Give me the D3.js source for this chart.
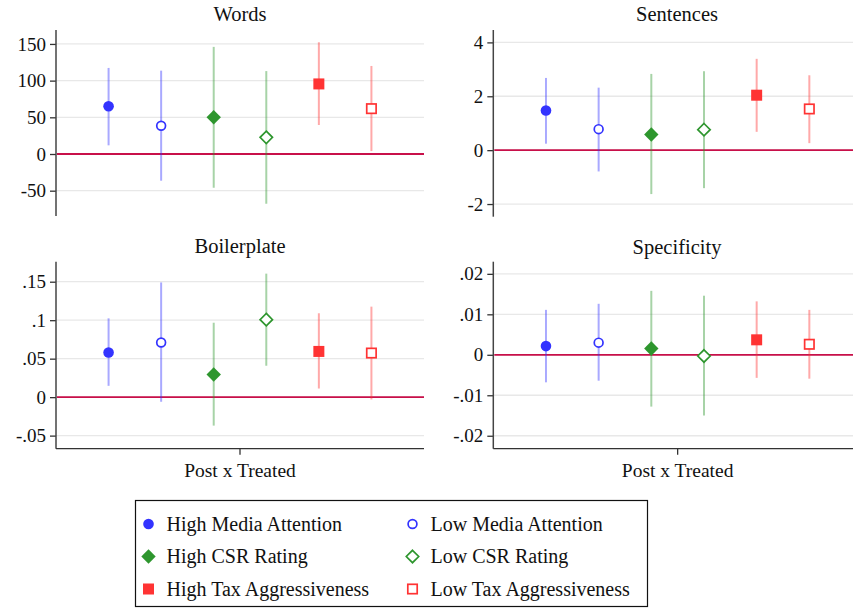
<!DOCTYPE html>
<html><head><meta charset="utf-8">
<script src="https://cdn.jsdelivr.net/npm/d3@7"></script>
<style>body{margin:0;background:#fff}svg{display:block}svg text{font-family:"Liberation Serif","Times New Roman",serif !important;fill:#111}</style>
</head><body><svg id="c" width="853" height="609" font-family="Liberation Serif"></svg>
<script>
const series = ["High Media Attention","Low Media Attention","High CSR Rating","Low CSR Rating","High Tax Aggressiveness","Low Tax Aggressiveness"];
const seriesColor = ["#3333ff","#3333ff","#2e962e","#2e962e","#ff3333","#ff3333"];
const seriesShape = ["circle","circle","diamond","diamond","square","square"];
const seriesFilled = [true,false,true,false,true,false];
const panelTitles = ["Words","Sentences","Boilerplate","Specificity"];
const xLabel = "Post x Treated";

const wordsCoef = [65, 38.6, 50, 22.7, 95.5, 61.8];
const wordsLo   = [11.8, -36.4, -46, -67.8, 39.5, 4];
const wordsHi   = [117.3, 113.6, 146, 113, 152.3, 120];
const wordsTicks = [-50, 0, 50, 100, 150];
const wordsTickLabels = ["-50","0","50","100","150"];

const sentCoef = [1.47, 0.78, 0.58, 0.76, 2.04, 1.53];
const sentLo   = [0.24, -0.79, -1.63, -1.41, 0.68, 0.26];
const sentHi   = [2.68, 2.32, 2.83, 2.93, 3.39, 2.78];
const sentTicks = [-2, 0, 2, 4];
const sentTickLabels = ["-2","0","2","4"];

const boilCoef = [0.058, 0.071, 0.0295, 0.1007, 0.0594, 0.0573];
const boilLo   = [0.0147, -0.006, -0.037, 0.0408, 0.0112, -0.003];
const boilHi   = [0.1024, 0.149, 0.0967, 0.1605, 0.109, 0.1176];
const boilTicks = [-0.05, 0, 0.05, 0.1, 0.15];
const boilTickLabels = ["-.05","0",".05",".1",".15"];

const specCoef = [0.00215, 0.003, 0.00156, -0.0003, 0.0037, 0.0026];
const specLo   = [-0.0068, -0.0064, -0.0128, -0.015, -0.0057, -0.0059];
const specHi   = [0.0111, 0.0126, 0.0158, 0.0146, 0.0132, 0.0111];
const specTicks = [-0.02, -0.01, 0, 0.01, 0.02];
const specTickLabels = ["-.02","-.01","0",".01",".02"];

const panels = [
  {title:panelTitles[0], coef:wordsCoef, lo:wordsLo, hi:wordsHi, ticks:wordsTicks, labels:wordsTickLabels, dom:[-84.5,169], x0:56, x1:424, y0:30, y1:216, xaxis:false, ty:21, tx:240},
  {title:panelTitles[1], coef:sentCoef, lo:sentLo, hi:sentHi, ticks:sentTicks, labels:sentTickLabels, dom:[-2.47,4.46], x0:493.3, x1:862, y0:30, y1:216.7, xaxis:false, ty:21, tx:677},
  {title:panelTitles[2], coef:boilCoef, lo:boilLo, hi:boilHi, ticks:boilTicks, labels:boilTickLabels, dom:[-0.067,0.176], x0:56, x1:424, y0:261.7, y1:448.7, xaxis:true, ty:253, tx:240},
  {title:panelTitles[3], coef:specCoef, lo:specLo, hi:specHi, ticks:specTicks, labels:specTickLabels, dom:[-0.0232,0.023], x0:493.3, x1:862, y0:261.7, y1:448.7, xaxis:true, ty:254, tx:677}
];

const FONT = "Liberation Serif";
const svg = d3.select("#c");

function drawMarker(g, shape, filled, color, cx, cy, scale) {
  const s = scale || 1;
  let el;
  if (shape === "circle") {
    el = g.append("circle").attr("cx", cx).attr("cy", cy).attr("r", (filled ? 5.3 : 4.4) * s);
  } else if (shape === "diamond") {
    const h = (filled ? 7.2 : 6.2) * s;
    el = g.append("path").attr("d", `M${cx},${cy-h}L${cx+h},${cy}L${cx},${cy+h}L${cx-h},${cy}Z`);
  } else {
    const h = (filled ? 5.5 : 4.7) * s;
    el = g.append("rect").attr("x", cx-h).attr("y", cy-h).attr("width", 2*h).attr("height", 2*h);
  }
  if (filled) el.attr("fill", color).attr("stroke", "none");
  else el.attr("fill", "#fff").attr("stroke", color).attr("stroke-width", 1.7);
}

panels.forEach(p => {
  const g = svg.append("g");
  const y = d3.scaleLinear().domain(p.dom).range([p.y1, p.y0]);
  const x = d3.scalePoint().domain(series).range([p.x0, p.x1]).padding(1);

  g.selectAll(".grid").data(p.ticks).enter().append("line")
    .attr("x1", p.x0).attr("x2", p.x1)
    .attr("y1", d => y(d)).attr("y2", d => y(d))
    .attr("stroke", "#e8e8e8").attr("stroke-width", 1.3);

  const ax = d3.axisLeft(y).tickValues(p.ticks).tickFormat((d,i) => p.labels[i]).tickSize(6).tickPadding(4);
  const axg = g.append("g").attr("transform", `translate(${p.x0},0)`).call(ax)
    .attr("font-family", FONT).attr("font-size", 19);
  axg.select(".domain").remove();
  axg.selectAll(".tick line").attr("stroke", "#333").attr("stroke-width", 1.3);
  axg.selectAll(".tick text").attr("font-family", FONT).attr("font-size", 19).attr("fill", "#111");
  g.append("line").attr("x1", p.x0).attr("x2", p.x0).attr("y1", p.y0).attr("y2", p.y1)
    .attr("stroke", "#444").attr("stroke-width", 1.5);

  if (p.xaxis) {
    g.append("line").attr("x1", p.x0).attr("x2", p.x1).attr("y1", p.y1).attr("y2", p.y1)
      .attr("stroke", "#333").attr("stroke-width", 1.3);
    const cx = (x(series[2]) + x(series[3])) / 2;
    g.append("line").attr("x1", cx).attr("x2", cx).attr("y1", p.y1).attr("y2", p.y1 + 6)
      .attr("stroke", "#333").attr("stroke-width", 1.3);
    g.append("text").attr("x", cx).attr("y", p.y1 + 28).attr("text-anchor", "middle")
      .attr("font-family", FONT).attr("font-size", 19.5).text(xLabel);
  }

  g.append("line").attr("x1", p.x0 + 1).attr("x2", p.x1).attr("y1", y(0)).attr("y2", y(0))
    .attr("stroke", "#c8104a").attr("stroke-width", 1.8);

  series.forEach((s, i) => {
    g.append("line").attr("x1", x(s)).attr("x2", x(s)).attr("y1", y(p.lo[i])).attr("y2", y(p.hi[i]))
      .attr("stroke", seriesColor[i]).attr("stroke-opacity", 0.42).attr("stroke-width", 2);
  });
  series.forEach((s, i) => {
    drawMarker(g, seriesShape[i], seriesFilled[i], seriesColor[i], x(s), y(p.coef[i]));
  });

  g.append("text").attr("x", p.tx).attr("y", p.ty).attr("text-anchor", "middle")
    .attr("font-family", FONT).attr("font-size", 20.5).text(p.title);
});

const lg = svg.append("g");
lg.append("rect").attr("x", 135.5).attr("y", 500.5).attr("width", 512).attr("height", 106)
  .attr("fill", "#fff").attr("stroke", "#111").attr("stroke-width", 1.2);
const legRowY = [524, 556.5, 589];
const legColX = [148.5, 412.5];
series.forEach((s, i) => {
  const col = i % 2, row = Math.floor(i / 2);
  const cx = legColX[col], cy = legRowY[row];
  drawMarker(lg, seriesShape[i], seriesFilled[i], seriesColor[i], cx, cy, 1);
  lg.append("text").attr("x", cx + 18).attr("y", cy + 6.5)
    .attr("font-family", FONT).attr("font-size", 20).text(s);
});
</script></body></html>
